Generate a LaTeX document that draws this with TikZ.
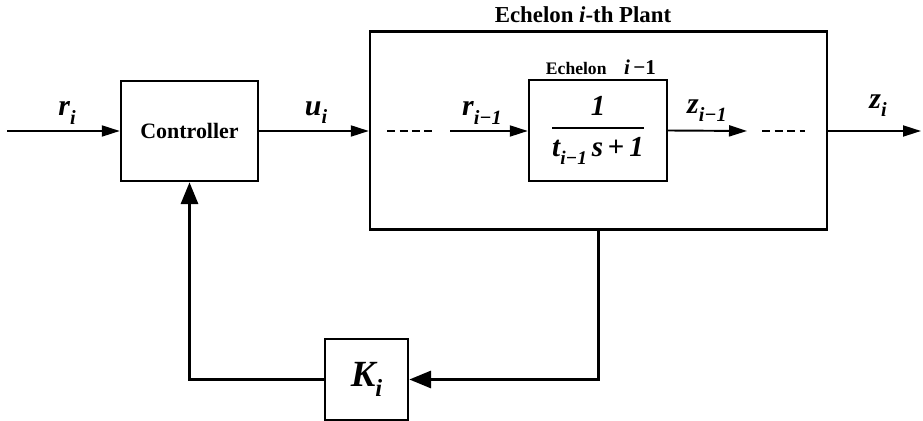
\documentclass[tikz,border=0pt]{standalone}
\usepackage{amsmath}
\usepackage{fontspec}
\setmainfont{Liberation Serif}
\usetikzlibrary{arrows.meta,positioning}
\newcommand{\sig}[3]{{\bfseries\itshape #1}\raisebox{-0.6ex}{\fontsize{#3}{#3}\selectfont\bfseries\itshape #2}}

\begin{document}
\begin{tikzpicture}[x=0.02cm,y=-0.02cm,
  blk/.style={draw,line width=1.4pt,inner sep=0pt},
  sigline/.style={-{Triangle[length=0.36cm,width=0.22cm]},line width=1.1pt},
  fbline/.style={-{Triangle[length=0.44cm,width=0.34cm]},line width=1.9pt},
  dashline/.style={line width=1.1pt,dash pattern=on 0.16cm off 0.09cm},
  lbl/.style={font=\fontsize{17}{19}\selectfont}]
  \useasboundingbox (0,0) rectangle (923,421);
  \node[blk,minimum width=2.74cm,minimum height=2cm,font=\fontsize{12.5}{14}\selectfont\bfseries] (ctrl) at (189.5,131) {Controller};
  \node[blk,minimum width=9.14cm,minimum height=3.96cm] (plant) at (598.5,130.5) {};
  \node[blk,minimum width=2.76cm,minimum height=2.02cm,font=\fontsize{16.5}{18}\selectfont] (tf) at (598,130.5)
    {$\genfrac{}{}{1.1pt}{0}{\mbox{\bfseries\itshape 1}}{\mbox{\sig{t}{i−1}{11}\,\textbf{\textit{s}}\,\textbf{+}\,\textbf{\textit{1}}}}$};
  \node[blk,minimum width=1.66cm,minimum height=1.62cm,font=\fontsize{21}{24}\selectfont] (gain) at (366.5,379.5) {\sig{K}{i}{14}};
  \node[font=\fontsize{13}{15}\selectfont\bfseries] (title) at (583,15) {Echelon \textit{i}-th Plant};
  \node[font=\bfseries] (tflab) at (601,67) {{\fontsize{10}{12}\selectfont Echelon}\quad{\fontsize{12}{14}\selectfont\textit{i}\,−1}};
  \node[lbl] (ri) at (67,113) {\sig{r}{i}{11.5}};
  \node[lbl] (ui) at (316,113) {\sig{u}{i}{11.5}};
  \node[lbl] (rim) at (482,113) {\sig{r}{i−1}{11.5}};
  \node[lbl] (zim) at (707,111) {\sig{z}{i−1}{11.5}};
  \node[lbl] (zi) at (878,106) {\sig{z}{i}{11.5}};
  \coordinate (in) at (7,131);
  \coordinate (dl1) at (387,131);
  \coordinate (dl2) at (432,131);
  \coordinate (rs) at (450,131);
  \coordinate (zt) at (747,131);
  \coordinate (dr1) at (762,131);
  \coordinate (dr2) at (805,131);
  \coordinate (out) at (921,131);
  \draw[sigline] (in) -- (ctrl.west);
  \draw[sigline] (ctrl.east) -- (ctrl.east -| plant.west);
  \draw[dashline] (dl1) -- (dl2);
  \draw[sigline] (rs) -- (rs -| tf.west);
  \draw[sigline] (tf.east) -- (zt);
  \draw[dashline] (dr1) -- (dr2);
  \draw[sigline] (out -| plant.east) -- (out);
  \draw[fbline] (plant.south) |- (gain.east);
  \draw[fbline] (gain.west) -| (ctrl.south);
\end{tikzpicture}
\end{document}
